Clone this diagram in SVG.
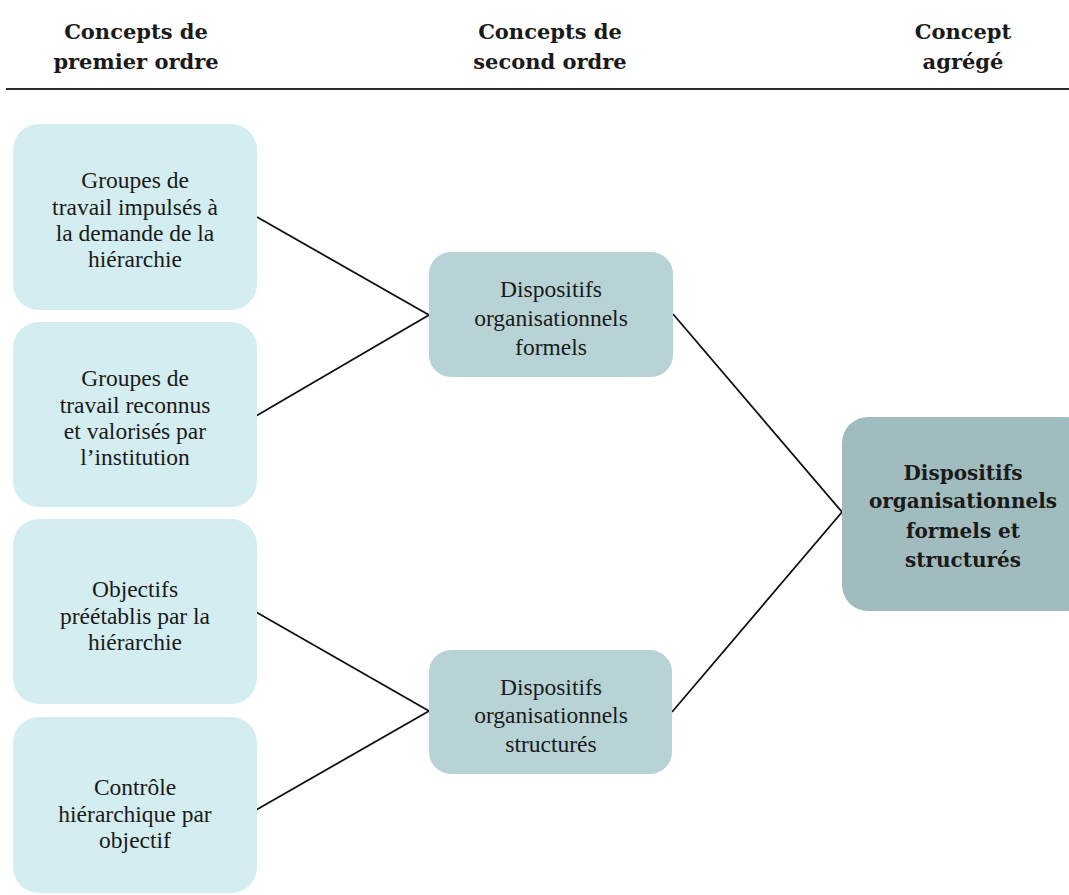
<svg xmlns="http://www.w3.org/2000/svg" width="1069" height="895" viewBox="0 0 1069 895">
<style>
.hdr{font-family:"DejaVu Serif",serif;font-weight:bold;font-size:21px;fill:#1a1a1a;text-anchor:middle}
.t{font-family:"Liberation Serif",serif;font-size:23.5px;fill:#1a1a1a;text-anchor:middle}
.tb{font-family:"DejaVu Serif",serif;font-weight:bold;font-size:20px;fill:#1a1a1a;text-anchor:middle}
.l1{fill:#d4edf0}
.l2{fill:#b7d3d5}
.l3{fill:#a1bcbe}
.c{stroke:#111;stroke-width:1.8;fill:none}
</style>
<rect width="1069" height="895" fill="#ffffff"/>
<g id="header">
<text class="hdr" x="136" y="39">Concepts de</text>
<text class="hdr" x="136" y="69">premier ordre</text>
<text class="hdr" x="550" y="39">Concepts de</text>
<text class="hdr" x="550" y="69">second ordre</text>
<text class="hdr" x="963" y="39">Concept</text>
<text class="hdr" x="963" y="69">agrégé</text>
<line x1="6" y1="89" x2="1069" y2="89" stroke="#2a2a2a" stroke-width="2.2"/>
</g>
<g id="connectors">
<polyline class="c" points="257,217 429,315 256,416"/>
<polyline class="c" points="256,612 429,711 256,810"/>
<polyline class="c" points="673,314 842,512 672,712"/>
</g>
<g id="n1">
<rect class="l1" x="13" y="124" width="244" height="186" rx="26"/>
<text class="t" x="135" y="188">Groupes de</text>
<text class="t" x="135" y="215">travail impulsés à</text>
<text class="t" x="135" y="241">la demande de la</text>
<text class="t" x="135" y="267">hiérarchie</text>
</g>
<g id="n2">
<rect class="l1" x="13" y="322" width="244" height="185" rx="26"/>
<text class="t" x="135" y="386">Groupes de</text>
<text class="t" x="135" y="413">travail reconnus</text>
<text class="t" x="135" y="439">et valorisés par</text>
<text class="t" x="135" y="465">l’institution</text>
</g>
<g id="n3">
<rect class="l1" x="13" y="519" width="244" height="185" rx="26"/>
<text class="t" x="135" y="597">Objectifs</text>
<text class="t" x="135" y="624">préétablis par la</text>
<text class="t" x="135" y="650">hiérarchie</text>
</g>
<g id="n4">
<rect class="l1" x="13" y="717" width="244" height="176" rx="26"/>
<text class="t" x="135" y="795">Contrôle</text>
<text class="t" x="135" y="822">hiérarchique par</text>
<text class="t" x="135" y="848">objectif</text>
</g>
<g id="m1">
<rect class="l2" x="429" y="252" width="244" height="125" rx="22"/>
<text class="t" x="551" y="297">Dispositifs</text>
<text class="t" x="551" y="326">organisationnels</text>
<text class="t" x="551" y="355">formels</text>
</g>
<g id="m2">
<rect class="l2" x="429" y="650" width="243" height="124" rx="22"/>
<text class="t" x="551" y="695">Dispositifs</text>
<text class="t" x="551" y="723">organisationnels</text>
<text class="t" x="551" y="752">structurés</text>
</g>
<g id="agg">
<rect class="l3" x="842" y="417" width="250" height="194" rx="26"/>
<text class="tb" x="963" y="480">Dispositifs</text>
<text class="tb" x="963" y="508">organisationnels</text>
<text class="tb" x="963" y="538">formels et</text>
<text class="tb" x="963" y="567">structurés</text>
</g>
</svg>
